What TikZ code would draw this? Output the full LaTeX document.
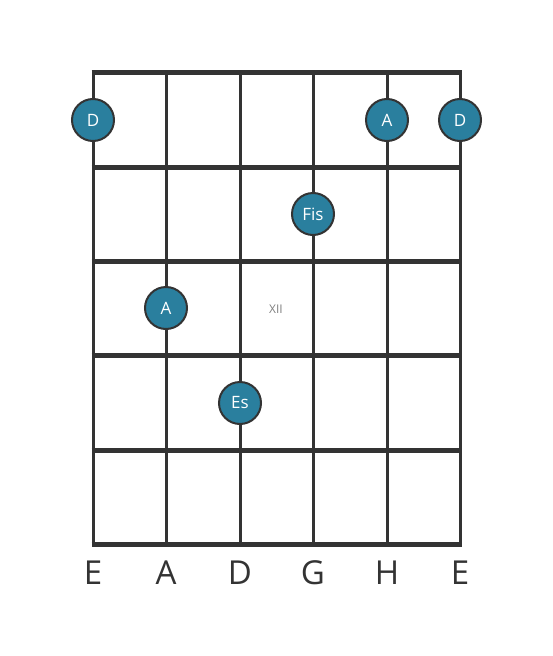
\documentclass[tikz,border=0pt]{standalone}
\usepackage{fontspec}
\setmainfont{Open Sans}
\definecolor{linec}{HTML}{333333}
\definecolor{notefill}{HTML}{2A7F9E}
\begin{document}
\begin{tikzpicture}[x=1pt,y=-1pt,
  stringline/.style={draw=linec,line width=3pt},
  fretline/.style={draw=linec,line width=5pt},
  note/.style={circle,draw=linec,line width=2pt,fill=notefill,minimum size=42pt,inner sep=0pt,text=white,font=\fontsize{17}{17}\selectfont},
  strlabel/.style={text=linec,font=\fontsize{33}{33}\selectfont,inner sep=0pt},
  fretnum/.style={text=gray,font=\fontsize{12}{12}\selectfont,inner sep=0pt}]
\useasboundingbox (0,0) rectangle (553,656);
\foreach \x [count=\i] in {93,166,240,313,387,460} {
  \coordinate (st\i) at (\x,72);
  \coordinate (sb\i) at (\x,544);
  \draw[stringline] (st\i) -- (sb\i);
}
\foreach \y [count=\j] in {72,167,261,355,450,544} {
  \coordinate (fl\j) at (91.5,\y);
  \coordinate (fr\j) at (461.5,\y);
  \draw[fretline] (fl\j) -- (fr\j);
}
\node[note] (n1) at (93,120) {D};
\node[note] (n2) at (387,120) {A};
\node[note] (n3) at (460,120) {D};
\node[note] (n4) at (313,214) {Fis};
\node[note] (n5) at (166,308) {A};
\node[note] (n6) at (240,403) {Es};
\node[fretnum] (xii) at (276,309) {XII};
\foreach \x/\t [count=\i] in {93/E,166/A,240/D,313/G,387/H,460/E}
  \node[strlabel] (l\i) at (\x,573) {\t};
\end{tikzpicture}
\end{document}
